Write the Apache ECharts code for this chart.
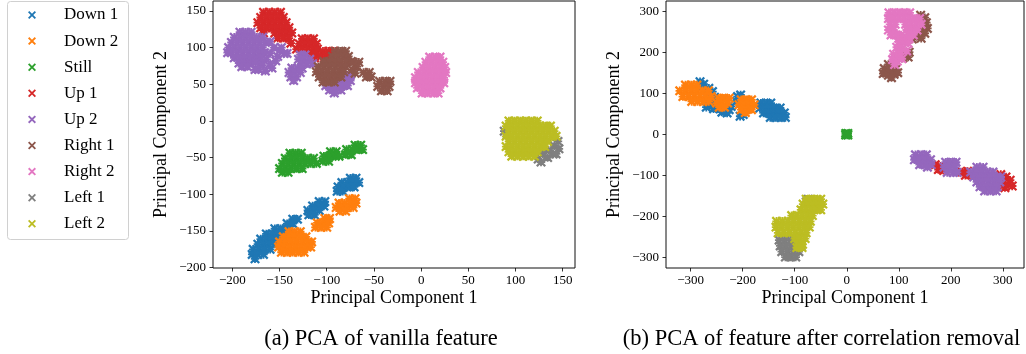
<!DOCTYPE html>
<html>
<head>
<meta charset="utf-8">
<script src="https://cdn.jsdelivr.net/npm/echarts@6/dist/echarts.min.js"></script>
<style>
html,body{margin:0;padding:0;background:#fff;}
#chart{width:1026px;height:354px;}
</style>
</head>
<body>
<div id="chart"></div>
<script>
// ---------- DATA (rows: [y, x1, x2, ...]) ----------
const categories = ['Down 1','Down 2','Still','Up 1','Up 2','Right 1','Right 2','Left 1','Left 2'];

const xTicksA = [-200,-150,-100,-50,0,50,100,150];
const yTicksA = [-200,-150,-100,-50,0,50,100,150];
const xTicksB = [-300,-200,-100,0,100,200,300];
const yTicksB = [-300,-200,-100,0,100,200,300];

// (a) PCA of vanilla feature
const A_DOWN1 = [
 [-78,-75,-69],[-84,-84,-78,-72,-66],[-90,-88,-82,-76,-71],[-96,-89,-83],
 [-110,-108,-102],[-116,-115,-109,-103],[-122,-120,-114,-108],[-128,-119,-113],
 [-134,-136,-131],[-140,-142,-136],[-147,-155,-149,-143],
 [-154,-164,-158,-152,-146,-140],[-161,-170,-164,-158,-152,-146],
 [-168,-173,-167,-161,-155,-149],[-175,-178,-172,-166,-160],[-182,-179,-173,-167],[-188,-176]
];
const A_DOWN2 = [
 [-106,-76,-70],[-112,-87,-81,-75,-69],[-118,-90,-84,-78,-72],[-123,-86,-80],
 [-133,-102,-97],[-139,-110,-104,-98],[-145,-112,-106,-100],
 [-151,-140,-134,-128],[-158,-146,-140,-134,-128,-122],
 [-165,-150,-144,-138,-132,-126,-120,-116],[-172,-151,-145,-139,-133,-127,-121,-117],
 [-179,-148,-142,-136,-130,-124]
];
const A_STILL = [
 [-33,-70,-64],[-39,-79,-73,-67,-62],[-46,-80,-74],
 [-42,-96,-90],[-48,-103,-97,-91,-87],[-55,-104,-98],
 [-44,-139,-133,-127],[-51,-144,-138,-132,-126,-120,-114],
 [-58,-147,-141,-135,-129,-123,-117,-111],[-65,-150,-144,-138,-132,-126],[-70,-147,-141]
];
const A_UP1 = [
 [148,-167,-161,-155,-149],[141,-170,-164,-158,-152,-146],
 [134,-173,-167,-161,-155,-149,-143],[127,-170,-164,-158,-152,-146,-140],
 [120,-167,-155,-149,-143,-137],[113,-152,-146,-140],[106,-138],
 [112,-126,-120,-114],[105,-129,-123,-117,-111],[98,-132,-126,-120,-114,-110],
 [91,-117,-111],[86,-113],
 [95,-104,-98,-93],[88,-106,-100,-94],[81,-103,-97]
];
const A_UP2 = [
 [121,-192,-186,-180],[114,-198,-192,-186,-180,-174,-168],
 [107,-201,-195,-189,-183,-177,-171,-165],[100,-204,-198,-192,-186,-180,-174,-168],
 [93,-205,-201,-195,-189,-183,-177,-171,-166],[86,-198,-192,-186,-180,-174],
 [79,-193,-187,-181,-170],[74,-190,-184],
 [108,-160],[100,-156,-148],[96,-150],[92,-160,-145,-142],[88,-152],[84,-164],[86,-170],
 [82,-154],[80,-175],[76,-168],[78,-160],[72,-158],[70,-172,-176],[68,-165],
 [90,-128,-123],[84,-130,-124,-118],[78,-127,-121,-115],
 [72,-137,-131,-126],[66,-140,-134,-128],[60,-138,-132],[55,-135],
 [62,-80,-75],[55,-98,-92,-86,-80,-75],[48,-101,-95,-89,-83,-78],[42,-97,-91,-85],[38,-92]
];
const A_RIGHT1 = [
 [95,-91,-85,-80],[88,-94,-88,-82,-77],[81,-103,-97,-91,-85,-79,-74],
 [74,-109,-103,-97,-91,-85,-80],[67,-111,-105,-99,-93,-87,-82],
 [60,-108,-102,-96,-90,-85],[53,-104,-98,-92],
 [80,-72,-66],[74,-68],[70,-73],[65,-70],
 [66,-61,-55],[60,-58,-53],
 [54,-44,-38,-33],[47,-46,-40,-34],[41,-42,-36]
];
const A_RIGHT2 = [
 [87,9,15,20],[80,5,11,17,23],[73,2,8,14,20,25],[66,-3,3,9,15,21,26],
 [59,-6,0,6,12,18,24],[52,-6,0,6,12,18,24],[45,-4,2,8,14,20],[38,1,7,13,18]
];
const A_LEFT1 = [
 [-22,140],[-28,145],[-34,141],[-38,146],[-40,135],[-45,140,129,143],
 [-50,134],[-52,124],[-56,127],[-14,88],[-19,91]
];
const A_LEFT2 = [
 [0,93,99,105,111,117,123],[-7,90,96,102,108,114,120,126,132,137],
 [-14,93,99,105,111,117,123,129,135,141],[-21,90,96,102,108,114,120,126,132,138,143],
 [-28,93,99,105,111,117,123,129,134],[-35,90,96,102,108,114,120,126,131],
 [-42,93,99,105,111,117,123],[-48,96,102,108,114,120]
];

// (b) PCA of feature after correlation removal
const B_DOWN1 = [
 [128,-282],[122,-275],[116,-279],
 [112,-265],[104,-258],[95,-262],[90,-254],[84,-268],[78,-258],[72,-264],[70,-250],[66,-270],
 [62,-256,-244],[58,-236],[60,-226],[52,-230],[54,-240],[68,-222],
 [92,-210],[96,-204],[80,-212],[48,-199],[44,-205],
 [76,-165,-155,-146],[64,-167,-157,-147,-137,-128],[52,-160,-150,-140,-130,-120],[41,-147,-137,-127,-118]
];
const B_DOWN2 = [
 [120,-310,-299,-288],[106,-321,-310,-299,-288,-277,-266],[92,-315,-304,-293,-282,-271,-261],
 [80,-298,-287,-276,-265],
 [88,-246,-236,-226],[76,-250,-240,-229],[66,-245,-235],
 [84,-203,-193,-183],[72,-207,-197,-187,-178],[60,-203,-193,-183],[53,-195]
];
const B_STILL = [[0,0],[2,-2,2],[-2,-2,2]];
const B_UP1 = [
 [-74,170],[-78,180],[-86,176],[-88,186],
 [-92,222],[-90,232],[-100,228],[-98,238],
 [-98,296],[-104,306],[-112,314],[-118,300],[-122,310],[-126,318],[-130,304],[-124,296]
];
const B_UP2 = [
 [-50,132,143,153],[-62,130,140,151,161],[-74,140,150,162],[-80,155],
 [-68,190,200,210],[-80,187,197,208],[-93,193,204,212],
 [-80,250,262],[-92,238,249,260,270,281],[-104,244,255,266,277,288,296],
 [-116,250,261,272,283,294],[-128,256,267,278,289],[-138,265,276,287]
];
const B_RIGHT1 = [
 [290,142],[284,150],[272,153],[262,147],[258,155],[250,140],[246,150],[238,134],[234,143],[232,126],
 [196,112],[200,120],[188,118],[186,108],
 [170,80],[168,90],[160,72],[156,82],[158,94],[148,70],[144,80],[146,91],[150,98],[138,86]
];
const B_RIGHT2 = [
 [296,81,91,101,111,121],[282,80,90,100,110,120,130,140],[268,83,93,113,123,133,143],
 [254,80,90,115,125,135],[242,85,95,105,118,128],[234,100,110,120],
 [225,100,110],[222,118],[212,96],[208,106],[203,115],[198,100],
 [195,90],[190,100],[182,88],[178,97],[184,106],[170,92]
];
const B_LEFT1 = [
 [-258,-130,-119,-108,-97],[-272,-128,-117,-106,-95,-88],[-286,-125,-114,-103,-92],
 [-299,-118,-108,-98],[-158,-74],[-165,-78]
];
const B_LEFT2 = [
 [-158,-78,-68,-58,-50],[-170,-84,-74,-64,-54,-46],[-184,-88,-78,-68,-58,-50],
 [-198,-106,-96,-86,-76,-66],[-212,-135,-124,-113,-102,-91,-80,-70],
 [-226,-136,-125,-114,-103,-92,-81,-72],[-240,-132,-121,-110,-99,-88,-78],
 [-254,-100,-90,-80],[-268,-95,-85],[-276,-96,-86]
];

// ---------- BUILD ----------
const colors = ['#1f77b4','#ff7f0e','#2ca02c','#d62728','#9467bd','#8c564b','#e377c2','#7f7f7f','#bcbd22'];
const setsA = [A_DOWN1,A_DOWN2,A_STILL,A_UP1,A_UP2,A_RIGHT1,A_RIGHT2,A_LEFT1,A_LEFT2];
const setsB = [B_DOWN1,B_DOWN2,B_STILL,B_UP1,B_UP2,B_RIGHT1,B_RIGHT2,B_LEFT1,B_LEFT2];
const expand = rows => rows.flatMap(r => r.slice(1).map(x => [x, r[0]]));
// legend icon: plain x
const xIcon = 'path://M0,1.6L1.6,0L5,3.4L8.4,0L10,1.6L6.6,5L10,8.4L8.4,10L5,6.6L1.6,10L0,8.4L3.4,5Z';
// plotted marker: x with small cross filling, so dense clusters read as solid blobs
const xMark = 'path://M0,1.6L1.6,0L5,3.4L8.4,0L10,1.6L6.6,5L10,8.4L8.4,10L5,6.6L1.6,10L0,8.4L3.4,5Z' +
              'M4.1,0.8L5.9,0.8L5.9,4.1L9.2,4.1L9.2,5.9L5.9,5.9L5.9,9.2L4.1,9.2L4.1,5.9L0.8,5.9L0.8,4.1L4.1,4.1Z';
const FONT = 'Liberation Serif';
const minus = v => String(v).replace('-', '\u2212');

function axis(gi, min, max, ticks, isX) {
  return {
    type: 'value', gridIndex: gi, min: min, max: max,
    axisLine: {show: false, onZero: false},
    splitLine: {show: false},
    axisTick: {show: true, inside: false, length: 3.5, customValues: ticks, lineStyle: {color: '#000', width: 0.8}},
    axisLabel: {customValues: ticks, formatter: minus, fontFamily: FONT, fontSize: 13, color: '#000', margin: isX ? 6 : 7}
  };
}

const series = [];
categories.forEach((name, i) => {
  series.push({name, type: 'scatter', xAxisIndex: 0, yAxisIndex: 0, data: expand(setsA[i]),
    symbol: xMark, symbolSize: 10, itemStyle: {color: colors[i], opacity: 1}, silent: true});
});
categories.forEach((name, i) => {
  series.push({name, type: 'scatter', xAxisIndex: 1, yAxisIndex: 1, data: expand(setsB[i]),
    symbol: xMark, symbolSize: 10, itemStyle: {color: colors[i], opacity: 1}, silent: true});
});

const txt = (text, x, y, size, rot) => ({
  type: 'text', x: x, y: y, rotation: rot || 0, silent: true,
  style: {text: text, fontFamily: FONT, fontSize: size, fill: '#000', align: 'center', verticalAlign: 'middle'}
});

const option = {
  animation: false,
  backgroundColor: '#fff',
  grid: [
    {left: 213, top: 1, width: 362, height: 267, show: true, borderColor: '#111', borderWidth: 1, backgroundColor: 'transparent'},
    {left: 666, top: 1, width: 358, height: 267, show: true, borderColor: '#111', borderWidth: 1, backgroundColor: 'transparent'}
  ],
  xAxis: [axis(0, -220.5, 163, xTicksA, true), axis(1, -347.4, 340.6, xTicksB, true)],
  yAxis: [axis(0, -200.5, 163.5, yTicksA, false), axis(1, -325.7, 324.7, yTicksB, false)],
  legend: {
    data: categories.map(n => ({name: n, icon: xIcon})), orient: 'vertical', left: 28, top: 6.5, padding: 0,
    itemWidth: 8, itemHeight: 8, itemGap: 9.1, selectedMode: false,
    textStyle: {fontFamily: FONT, fontSize: 17, color: '#000', lineHeight: 17, padding: [0,0,0,23]}
  },
  graphic: [
    {type: 'rect', shape: {x: 7.5, y: 1.5, width: 121, height: 238, r: 3}, silent: true,
     style: {fill: 'none', stroke: '#d0d0d0', lineWidth: 1}},
    txt('Principal Component 1', 394, 298, 18),
    txt('Principal Component 1', 845, 298, 18),
    txt('Principal Component 2', 161, 134.5, 18, Math.PI/2),
    txt('Principal Component 2', 614.5, 134.5, 18, Math.PI/2),
    txt('(a) PCA of vanilla feature', 381, 339, 22.5),
    txt('(b) PCA of feature after correlation removal', 821.5, 339, 22.5)
  ],
  series: series
};

const chart = echarts.init(document.getElementById('chart'), null, {renderer: 'canvas'});
chart.setOption(option);
</script>
</body>
</html>
